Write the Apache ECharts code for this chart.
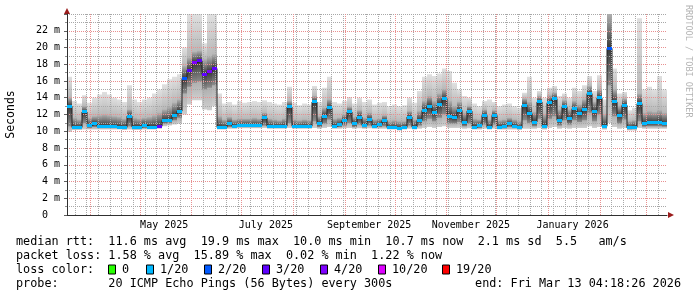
<!DOCTYPE html>
<html><head><meta charset="utf-8">
<script src="https://cdn.jsdelivr.net/npm/echarts@6/dist/echarts.min.js"></script>
<style>html,body{margin:0;padding:0;background:#fff}#c{width:697px;height:297px}</style>
</head><body><div id="c"></div>
<script>
// ---------- data ----------
const startTime = '2025-03-18T04:18:26';
const endTime = '2026-03-13T04:18:26';
const stepDays = 3;

const median = [13.0,10.45,10.45,12.3,10.7,10.9,10.6,10.6,10.6,10.55,
10.5,10.45,11.8,10.5,10.5,10.7,10.5,10.5,10.6,11.3,
11.3,11.9,12.4,16.3,17.3,18.2,18.4,16.8,17.1,17.5,
10.45,10.45,10.9,10.6,10.7,10.7,10.7,10.7,10.7,11.6,
10.6,10.6,10.6,10.6,12.9,10.6,10.55,10.6,10.6,13.5,
10.9,11.8,12.8,10.6,10.8,11.3,12.3,10.9,11.7,10.7,
11.4,10.6,10.8,11.3,10.45,10.45,10.35,10.45,11.7,10.5,
11.3,12.5,13.0,12.2,13.2,13.9,11.8,11.6,12.5,11.0,
12.4,10.5,10.7,11.9,10.45,11.9,10.5,10.55,10.9,10.6,
10.4,13.1,12.1,11.1,13.5,10.6,13.4,13.9,11.3,12.9,
11.5,12.7,12.1,12.6,14.5,12.4,14.0,10.6,19.9,13.5,
11.9,13.1,10.4,10.5,13.3,10.9,11.0,11.0,11.1,10.9];

const smokeLow = [9.9,10.15,10.15,10.2,10.2,10.2,10.2,10.2,10.2,10.2,
10.2,10.15,10.2,10.15,10.15,10.2,10.2,10.2,10.3,10.6,
10.7,10.8,10.9,12.0,13.2,13.7,13.7,12.6,12.5,13.0,
10.2,10.2,10.3,10.3,10.35,10.35,10.35,10.35,10.35,10.4,
10.3,10.3,10.3,10.3,10.4,10.3,10.3,10.3,10.3,10.4,
10.3,10.4,10.5,10.3,10.3,10.35,10.4,10.3,10.35,10.3,
10.35,10.3,10.3,10.3,10.2,10.2,10.1,10.2,10.3,10.2,
10.3,10.4,10.5,10.4,10.5,10.6,10.4,10.4,10.4,10.3,
10.35,10.2,10.2,10.3,10.2,10.3,10.2,10.2,10.2,10.2,
10.15,10.3,10.3,10.3,10.4,10.2,10.4,10.5,10.3,10.4,
10.3,10.4,10.4,10.4,10.6,10.4,10.5,10.2,11.0,10.5,
10.3,10.4,10.1,10.1,10.4,10.3,10.3,10.3,10.3,10.3];

const coreLow = [10.6,10.3,10.3,11.0,10.4,10.5,10.4,10.4,10.4,10.4,
10.35,10.3,10.6,10.3,10.3,10.4,10.35,10.4,10.5,10.9,
11.0,11.3,11.6,14.5,15.3,15.8,15.9,15.0,15.2,15.5,
10.3,10.35,10.5,10.45,10.5,10.5,10.5,10.5,10.5,10.7,
10.45,10.45,10.45,10.45,11.0,10.45,10.4,10.45,10.45,11.2,
10.5,10.9,11.4,10.45,10.5,10.7,11.0,10.5,10.8,10.45,
10.7,10.45,10.5,10.6,10.3,10.3,10.25,10.3,10.7,10.35,
10.7,11.2,11.5,11.2,11.6,12.0,10.9,10.9,11.1,10.6,
10.9,10.35,10.4,10.8,10.3,10.8,10.35,10.35,10.5,10.4,
10.3,11.3,11.0,10.6,11.5,10.4,11.5,11.8,10.7,11.3,
10.8,11.3,11.1,11.3,12.2,11.2,12.0,10.4,15.5,11.8,
10.9,11.4,10.25,10.3,11.2,10.55,10.6,10.6,10.6,10.55];

const coreHigh = [14.0,11.6,11.4,13.0,11.6,11.8,11.9,12.0,11.9,11.8,
11.7,11.5,12.6,11.6,11.5,11.6,11.7,11.9,12.2,12.6,
12.9,13.4,13.8,17.8,18.8,19.5,19.6,18.6,18.9,19.2,
11.8,11.4,11.7,11.4,11.5,11.5,11.5,11.6,11.5,12.2,
11.5,11.4,11.3,11.5,13.6,11.4,11.3,11.4,11.3,14.2,
11.8,12.8,13.8,11.5,11.6,12.0,12.9,11.7,12.5,11.6,
12.2,11.4,11.5,11.9,11.2,11.3,11.2,11.2,12.4,11.4,
12.4,13.6,14.2,13.6,14.5,15.0,13.6,13.0,13.5,12.2,
13.0,11.5,11.4,12.6,11.4,12.5,11.3,11.4,11.6,11.4,
11.2,13.9,13.5,12.3,14.2,12.0,14.3,14.6,12.6,13.7,
12.6,13.6,13.2,13.8,15.4,13.5,15.0,12.0,24.5,15.0,
13.0,13.9,11.2,11.3,14.5,12.2,12.4,12.3,12.5,12.2];

const smokeHigh = [16.5,13.6,13.3,14.3,13.4,14.0,14.4,14.7,14.4,14.0,
13.8,13.5,15.5,13.8,13.5,13.8,14.0,14.5,15.0,15.6,
16.2,16.5,16.8,20.0,24.5,24.5,24.5,20.5,24.5,24.5,
14.5,13.3,13.5,13.2,13.6,13.4,13.5,13.6,13.5,13.7,
13.5,13.3,13.2,13.5,15.3,13.4,13.1,13.3,13.2,15.4,
13.5,15.2,16.5,13.5,13.3,13.6,14.1,13.3,14.0,13.5,
13.8,13.2,13.4,13.5,13.0,13.2,13.0,13.1,14.0,13.4,
14.8,16.5,16.8,16.6,16.9,17.5,17.2,15.8,15.0,14.2,
14.0,13.3,13.0,13.6,13.8,13.5,13.0,13.2,13.3,13.0,
12.8,14.6,16.5,14.0,14.8,14.0,15.2,15.4,14.2,14.5,
14.0,15.2,14.8,15.5,16.6,14.8,16.7,13.8,24.5,17.5,
14.5,14.7,12.5,12.8,23.5,15.0,15.3,15.0,16.6,15.0];

const lostPings = [1,1,1,1,1,1,1,1,1,1,
1,1,1,1,1,1,1,1,3,1,
1,1,1,2,3,4,3,3,4,3,
1,1,1,1,1,1,1,1,1,1,
1,1,1,1,1,1,1,1,1,1,
1,1,1,1,1,1,1,1,1,1,
1,1,1,1,1,1,1,1,1,1,
1,1,1,1,1,1,1,1,1,1,
1,1,1,1,1,1,1,1,1,1,
1,1,1,1,1,1,1,1,1,1,
1,1,1,1,1,1,1,1,2,1,
1,1,1,1,1,1,1,1,1,1];

const lossLevels = [0, 1, 2, 3, 4, 10, 19];
const lossLabels = ['0', '1/20', '2/20', '3/20', '4/20', '10/20', '19/20'];
const lossColors = ['#26ff00', '#00b8ff', '#0059ff', '#5e00ff', '#7e00ff', '#dd00ff', '#ff0000'];

const yMax = 24;
const yStep = 2;
const yUnit = 'm';

const monthStarts = ['2025-04-01','2025-05-01','2025-06-01','2025-07-01','2025-08-01','2025-09-01',
  '2025-10-01','2025-11-01','2025-12-01','2026-01-01','2026-02-01','2026-03-01'];
const firstSunday = '2025-03-23';
const monthLabels = [['2025-05-01','May 2025'],['2025-07-01','July 2025'],['2025-09-01','September 2025'],
  ['2025-11-01','November 2025'],['2026-01-01','January 2026']];

const legendRows = [
  'median rtt:  11.6 ms avg  19.9 ms max  10.0 ms min  10.7 ms now  2.1 ms sd  5.5   am/s',
  'packet loss: 1.58 % avg  15.89 % max  0.02 % min  1.22 % now',
  'loss color:',
  'probe:       20 ICMP Echo Pings (56 Bytes) every 300s'
];
const endLabel = 'end: Fri Mar 13 04:18:26 2026';
const yTitle = 'Seconds';
const watermark = 'RRDTOOL / TOBI OETIKER';

// ---------- helpers ----------
const T0 = Date.parse(startTime + 'Z');
const DAY = 86400000;
const toDays = s => (Date.parse(s.length === 10 ? s + 'T00:00:00Z' : s + 'Z') - T0) / DAY;
const spanDays = toDays(endTime);
const labelShift = 14.5;
const lossColor = n => { let c = lossColors[0]; lossLevels.forEach((l, k) => { if (n >= l) c = lossColors[k]; }); return c; };

const MONO = '"DejaVu Sans Mono", monospace';
const MAJOR = '#e89090', MINOR = '#a8a8a8';

const smokeData = median.map((m, i) => [i * stepDays, (i + 1) * stepDays, smokeLow[i], coreLow[i], coreHigh[i], smokeHigh[i], m]);
const medianPts = median.map((m, i) => [i * stepDays, m]).concat([[spanDays, median[median.length - 1]]]);
const lossData = median.map((m, i) => [i * stepDays, (i + 1) * stepDays, m, lostPings[i]]);

const monthDays = monthStarts.map(toDays);
const weekDays = [];
for (let d = toDays(firstSunday); d < spanDays; d += 7) {
  if (!monthDays.some(m => Math.abs(m - d) < 0.6)) weekDays.push(d);
}

const labelPos = monthLabels.map(([d]) => toDays(d) + labelShift);
const ySplitColors = [];
for (let v = 0; v <= yMax; v += yStep) ySplitColors.push(v >= yMax ? MINOR : MAJOR);

const chart = echarts.init(document.getElementById('c'), null, {renderer: 'canvas'});
const clipTo = (r, cs) => echarts.graphic.clipRectByRect(r, {x: cs.x, y: cs.y, width: cs.width, height: cs.height});

const vLines = (days, color) => ({
  silent: true, symbol: ['none', 'none'], animation: false, precision: 6,
  label: {show: false},
  lineStyle: {color, type: [1, 1], width: 1, opacity: 1},
  emphasis: {disabled: true},
  data: days.map(d => ({xAxis: d}))
});

chart.setOption({
  animation: false,
  backgroundColor: '#ffffff',
  grid: {left: 67, right: 30, top: 14, bottom: 82},
  xAxis: {
    type: 'value', min: 0, max: spanDays, z: 3,
    axisLine: {show: true, onZero: false, lineStyle: {color: '#303030', width: 1}},
    axisTick: {show: false}, splitLine: {show: false},
    axisLabel: {
      customValues: labelPos, margin: 5, fontFamily: MONO, fontSize: 10, color: '#000',
      formatter: v => { let best = '', bd = 1e9; monthLabels.forEach(([d, t]) => { const dd = Math.abs(toDays(d) + labelShift - v); if (dd < bd) { bd = dd; best = t; } }); return best; }
    }
  },
  yAxis: {
    type: 'value', min: 0, max: yMax, interval: yStep, z: 3,
    axisLine: {show: true, lineStyle: {color: '#303030', width: 1}},
    axisTick: {show: true, length: 3, lineStyle: {color: '#606060'}},
    minorTick: {show: true, splitNumber: 2, length: 2, lineStyle: {color: '#909090'}},
    axisLabel: {margin: 7, fontFamily: MONO, fontSize: 10, color: '#000',
      formatter: v => v === 0 ? '0  ' : (v >= yMax ? '' : v + ' ' + yUnit)},
    splitLine: {show: true, lineStyle: {color: ySplitColors, type: [1, 1], width: 1}},
    minorSplitLine: {show: true, lineStyle: {color: MINOR, type: [1, 1], width: 1}}
  },
  series: [
    {
      type: 'custom', name: 'smoke', z: 1, clip: true,
      data: smokeData, encode: {x: [0, 1], y: [2, 5]},
      renderItem(params, api) {
        const cs = params.coordSys;
        const L = Math.round(api.coord([api.value(0), 0])[0]);
        const R = Math.round(api.coord([api.value(1), 0])[0]);
        const Y = v => api.coord([api.value(0), v])[1];
        const yLo = Y(api.value(2)), yCL = Y(api.value(3)), yCH = Y(api.value(4)), yHi = Y(api.value(5)), yM = Y(api.value(6));
        const kids = [];
        const outer = clipTo({x: L, y: yHi, width: R - L, height: yLo - yHi}, cs);
        if (outer) {
          const fr = y => Math.min(1, Math.max(0, (y - outer.y) / outer.height));
          kids.push({type: 'rect', shape: outer, style: {fill: new echarts.graphic.LinearGradient(0, 0, 0, 1, [
            {offset: 0, color: '#e0e0e0'}, {offset: fr(yCH), color: '#b8b8b8'},
            {offset: fr(yCL), color: '#b0b0b0'}, {offset: 1, color: '#cfcfcf'}])}});
        }
        const core = clipTo({x: L, y: yCH, width: R - L, height: yCL - yCH}, cs);
        if (core) {
          const off = Math.min(0.98, Math.max(0.02, (yM - core.y) / core.height));
          kids.push({type: 'rect', shape: core, style: {fill: new echarts.graphic.LinearGradient(0, 0, 0, 1, [
            {offset: 0, color: '#b0b0b0'}, {offset: off, color: '#383838'}, {offset: 1, color: '#8c8c8c'}])}});
        }
        return {type: 'group', children: kids};
      }
    },
    {
      type: 'line', name: 'weekGrid', z: 3, data: [], symbol: 'none', silent: true,
      markLine: vLines(weekDays, MINOR)
    },
    {
      type: 'line', name: 'monthGrid', z: 3, data: [], symbol: 'none', silent: true,
      markLine: vLines(monthDays, MAJOR)
    },
    {
      type: 'line', name: 'median', z: 4, step: 'end', data: medianPts,
      showSymbol: false, symbol: 'none', lineStyle: {color: '#202020', width: 1}
    },
    {
      type: 'custom', name: 'loss', z: 5, clip: true,
      data: lossData, encode: {x: [0, 1], y: 2},
      renderItem(params, api) {
        const L = Math.round(api.coord([api.value(0), 0])[0]);
        const R = Math.round(api.coord([api.value(1), 0])[0]);
        const y = api.coord([api.value(0), api.value(2)])[1];
        return {type: 'rect', shape: {x: L, y: Math.round(y - 1.5), width: R - L, height: 3},
          style: {fill: lossColor(api.value(3))}};
      }
    }
  ]
});

// ---------- text, legend, arrows ----------
const pR = chart.convertToPixel({gridIndex: 0}, [spanDays, 0]);
const pT = chart.convertToPixel({gridIndex: 0}, [0, yMax]);
const FONT = '11.8px ' + MONO;
const rowY = [241.5, 255.5, 269.5, 283.5];
const g = [];
legendRows.forEach((t, k) => g.push({type: 'text', x: 16, y: rowY[k], style: {text: t, font: FONT, fill: '#000', textVerticalAlign: 'middle'}}));
g.push({type: 'text', x: 681, y: rowY[3], style: {text: endLabel, font: FONT, fill: '#000', textAlign: 'right', textVerticalAlign: 'middle'}});
const boxX = [108, 146, 204, 262, 320, 378, 442];
lossLabels.forEach((t, k) => {
  g.push({type: 'rect', shape: {x: boxX[k] + 0.5, y: rowY[2] - 4.5, width: 7, height: 9}, style: {fill: lossColors[k], stroke: '#000', lineWidth: 1}});
  g.push({type: 'text', x: boxX[k] + 14, y: rowY[2], style: {text: t, font: FONT, fill: '#000', textVerticalAlign: 'middle'}});
});
g.push({type: 'text', x: 11, y: 114.5, rotation: Math.PI / 2, style: {text: yTitle, font: '11.5px ' + MONO, fill: '#000', textAlign: 'center', textVerticalAlign: 'middle'}});
g.push({type: 'text', x: 688, y: 5, rotation: -Math.PI / 2, style: {text: watermark, font: '8.5px ' + MONO, fill: '#b4b4b4', textAlign: 'left', textVerticalAlign: 'middle'}});
g.push({type: 'polygon', shape: {points: [[pR[0] + 1, pR[1] - 3], [pR[0] + 1, pR[1] + 3], [pR[0] + 7, pR[1]]]}, style: {fill: '#9b1c1c'}});
g.push({type: 'polygon', shape: {points: [[pT[0] - 3, pT[1]], [pT[0] + 3, pT[1]], [pT[0], pT[1] - 6]]}, style: {fill: '#9b1c1c'}});
chart.setOption({graphic: g});
</script>
</body></html>
